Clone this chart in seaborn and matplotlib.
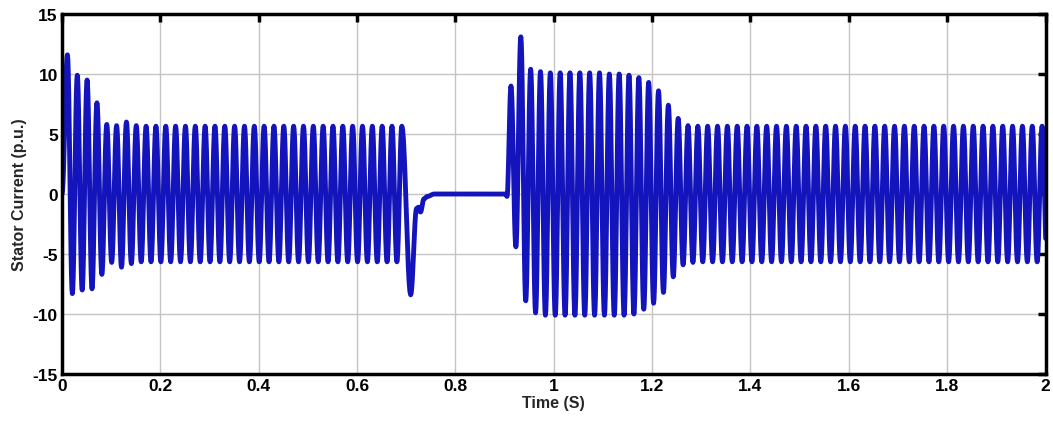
import numpy as np
import pandas as pd
import matplotlib
matplotlib.use('Agg')
import matplotlib.pyplot as plt
from matplotlib.ticker import FormatStrFormatter
import seaborn as sns

# ---- values ----
PERIOD = 0.02                 # 50 Hz supply
STEADY_PEAK = 5.65
STEADY_TROUGH = -5.65

# 0 - 0.7 s : start-up transient, then steady state
a_first_peak = 0.011
a_n_peaks = 35
a_peaks = [11.6, 9.9, 9.5, 7.6, 5.8, 5.7, 6.0, 5.7]
a_troughs = [-8.3, -8.0, -7.9, -6.7, -5.7, -6.1, -5.8]

# 0.7 - 0.9 s : current collapse
b_times = [0.709, 0.721, 0.725, 0.729, 0.736, 0.743, 0.757, 0.902, 0.905]
b_values = [-8.4, -1.2, -1.1, -1.5, -0.4, -0.2, 0.0, 0.0, -0.2]

# 0.9 - 2 s : reconnection transient, then steady state
c_first_peak = 0.913
c_n_peaks = 55
c_peaks = [9.0, 13.1, 10.4, 10.2, 10.1, 10.1, 10.1, 10.1, 10.1, 10.1,
           10.0, 10.0, 9.9, 9.7, 9.3, 8.6, 7.4, 6.3, 5.7]
c_troughs = [-4.4, -8.9, -9.9, -10.1, -10.1, -10.1, -10.1, -10.1, -10.1,
             -10.1, -10.1, -10.1, -10.0, -9.6, -9.1, -8.2, -6.9, -5.9, -5.7]


def cycle_points(first_peak, n_peaks, peaks, troughs, last_trough=False):
    times, vals = [], []
    for k in range(n_peaks):
        t = first_peak + k * PERIOD
        times.append(t)
        vals.append(peaks[k] if k < len(peaks) else STEADY_PEAK)
        if k < n_peaks - 1 or last_trough:
            times.append(t + PERIOD / 2)
            vals.append(troughs[k] if k < len(troughs) else STEADY_TROUGH)
    return times, vals


ta, va = cycle_points(a_first_peak, a_n_peaks, a_peaks, a_troughs)
tc, vc = cycle_points(c_first_peak, c_n_peaks, c_peaks, c_troughs, last_trough=True)
key_t = [0.0] + ta + b_times + tc
key_v = [0.0] + va + b_values + vc

# half-wave shape between successive extrema
tt, vv = [], []
for i in range(len(key_t) - 1):
    s = np.linspace(0, 1, 12)[:-1]
    tt.extend(key_t[i] + (key_t[i + 1] - key_t[i]) * s)
    vv.extend(key_v[i] + (key_v[i + 1] - key_v[i]) * (1 - np.cos(np.pi * s)) / 2)
tt.append(key_t[-1])
vv.append(key_v[-1])

df = pd.DataFrame({'Time': tt, 'Current': vv})

# ---- plot ----
sns.set_style('white')
plt.rcParams['font.family'] = ['Liberation Sans', 'DejaVu Sans']
plt.rcParams['font.weight'] = 'bold'
plt.rcParams['axes.unicode_minus'] = False

fig = plt.figure(figsize=(10.53, 4.27), dpi=100)
ax = fig.add_axes([0.0589, 0.1218, 0.934, 0.843])

sns.lineplot(data=df, x='Time', y='Current', color='#1414bc', lw=3.5,
             estimator=None, sort=False, legend=False, ax=ax)

ax.set_xlim(0, 2)
ax.set_ylim(-15, 15)
ax.set_xticks(np.arange(0, 2.01, 0.2))
ax.set_yticks(np.arange(-15, 16, 5))
ax.xaxis.set_major_formatter(FormatStrFormatter('%g'))
ax.grid(True, color='#c4c4c4', lw=1)
ax.set_axisbelow(True)

for sp in ax.spines.values():
    sp.set_color('black')
    sp.set_linewidth(2.5)
ax.tick_params(direction='in', top=True, right=True, length=6, width=2.5,
               labelsize=12.5, pad=3, colors='black')
for lab in ax.get_xticklabels() + ax.get_yticklabels():
    lab.set_fontweight('bold')

ax.set_xlabel('Time (S)', fontsize=11.5, fontweight='bold', labelpad=1)
ax.set_ylabel('Stator Current (p.u.)', fontsize=11.5, fontweight='bold', labelpad=4)

fig.savefig('out.png', dpi=100)
